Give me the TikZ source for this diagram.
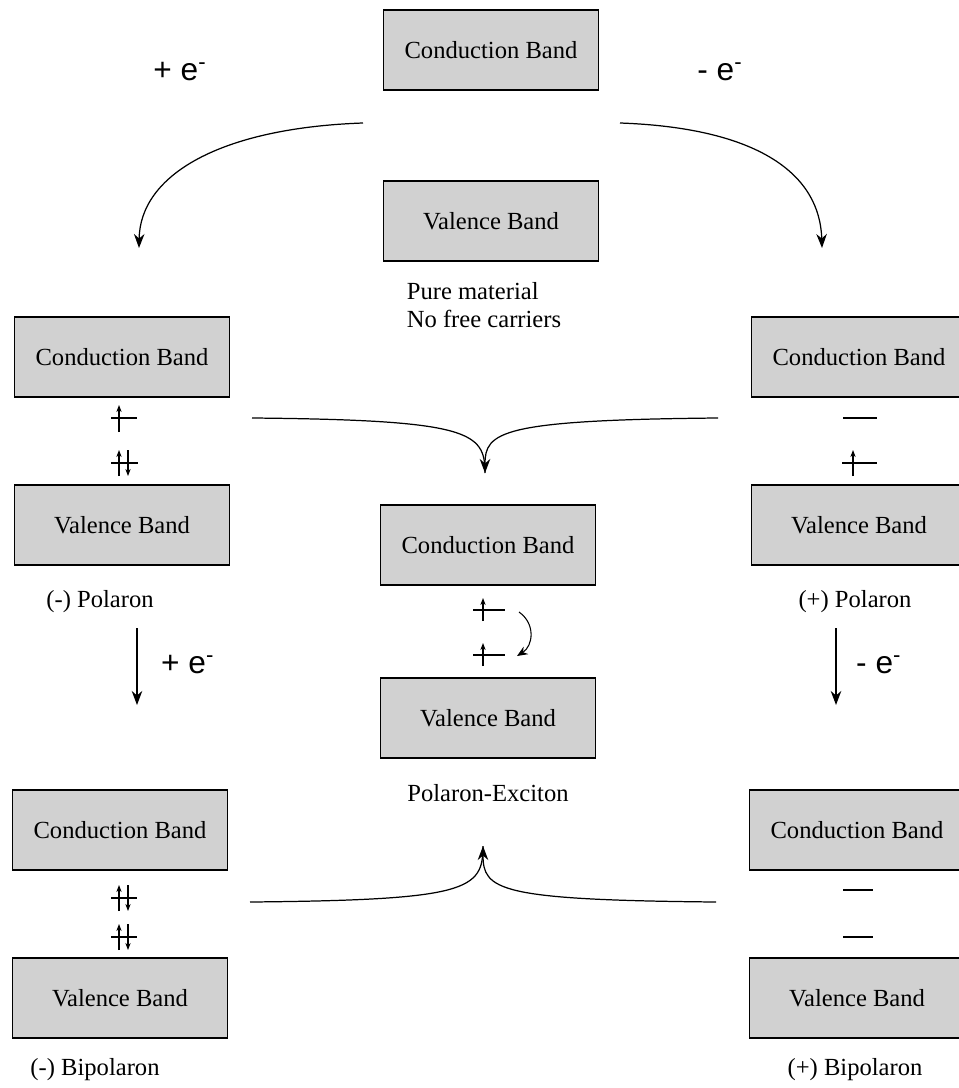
\documentclass[tikz,border=0pt]{standalone}
\usepackage{fontspec}
\setmainfont{Liberation Serif}
\newfontfamily\chargefont{Liberation Sans}
\usetikzlibrary{arrows.meta}

\begin{document}
\begin{tikzpicture}[x=0.02cm, y=-0.02cm, font=\fontsize{14}{16}\selectfont,
    band/.style={draw, line width=0.6pt, fill=black!18, minimum width=4.3cm, minimum height=1.6cm, inner sep=0pt},
    lvl/.style={line width=0.6pt},
    spin/.style={-{Stealth[length=4pt,width=3pt]}, line width=0.6pt},
    flow/.style={-{Stealth[length=8pt,width=6pt]}, line width=0.7pt},
    charge/.style={font=\chargefont\fontsize{18}{20}\selectfont}]
    \useasboundingbox (0,0) rectangle (959,1088);

    % Pure material
    \node[band] (cbTop) at (491,50) {Conduction Band};
    \node[band] (vbTop) at (491,221) {Valence Band};
    \node[align=left] (pure) at (484,305) {Pure material\\No free carriers};

    % (-) Polaron
    \node[band] (cbNeg) at (122,357) {Conduction Band};
    \node[band] (vbNeg) at (122,525) {Valence Band};
    \node (polNeg) at (100,602) {(-) Polaron};
    \draw[lvl] (111,418) -- (137,418);
    \draw[spin] (119,432) -- (119,405);
    \draw[lvl] (111,463) -- (138,463);
    \draw[spin] (119,476) -- (119,450);
    \draw[spin] (128,450) -- (128,476);

    % (+) Polaron
    \node[band] (cbPos) at (859,357) {Conduction Band};
    \node[band] (vbPos) at (859,525) {Valence Band};
    \node (polPos) at (855,602) {(+) Polaron};
    \draw[lvl] (843,418) -- (877,418);
    \draw[lvl] (842,463) -- (877,463);
    \draw[spin] (853,476) -- (853,450);

    % Polaron-Exciton
    \node[band] (cbExc) at (488,545) {Conduction Band};
    \node[band] (vbExc) at (488,718) {Valence Band};
    \node (exciton) at (488,793) {Polaron-Exciton};
    \foreach \y in {610,655} {
        \draw[lvl] (473,\y) -- (505,\y);
        \draw[spin] (483,\y+11) -- (483,\y-12);
    }
    \coordinate (hopA) at (519,612);
    \coordinate (hopB) at (517,656);
    \draw[-{Stealth[length=6pt,width=5pt]}, line width=0.6pt] (hopA) .. controls (536,624) and (533,646) .. (hopB);

    % (-) Bipolaron
    \node[band] (cbBiNeg) at (120,830) {Conduction Band};
    \node[band] (vbBiNeg) at (120,998) {Valence Band};
    \node (bipolNeg) at (95,1070) {(-) Bipolaron};
    \foreach \y in {898,937} {
        \draw[lvl] (111,\y) -- (137,\y);
        \draw[spin] (119,\y+13) -- (119,\y-13);
        \draw[spin] (128,\y-13) -- (128,\y+13);
    }

    % (+) Bipolaron
    \node[band] (cbBiPos) at (857,830) {Conduction Band};
    \node[band] (vbBiPos) at (857,998) {Valence Band};
    \node (bipolPos) at (855,1070) {(+) Bipolaron};
    \draw[lvl] (843,890) -- (873,890);
    \draw[lvl] (843,937) -- (873,937);

    % Doping arrows from the pure material
    \coordinate (addStart) at (363,123);
    \coordinate (addEnd) at (139,248);
    \coordinate (remStart) at (620,123);
    \coordinate (remEnd) at (822,248);
    \draw[flow] (addStart) .. controls (220,128) and (140,175) .. (addEnd);
    \draw[flow] (remStart) .. controls (760,128) and (820,175) .. (remEnd);
    \node[charge] (addTop) at (180,72) {+ e\textsuperscript{-}};
    \node[charge] (remTop) at (720,72) {- e\textsuperscript{-}};

    % Polaron to bipolaron
    \coordinate (negA) at (137,628);
    \coordinate (negB) at (137,705);
    \coordinate (posA) at (836,628);
    \coordinate (posB) at (836,705);
    \draw[flow] (negA) -- (negB);
    \draw[flow] (posA) -- (posB);
    \node[charge, anchor=west] (addMid) at (155,665) {+ e\textsuperscript{-}};
    \node[charge, anchor=west] (remMid) at (850,665) {- e\textsuperscript{-}};

    % Recombination into the exciton
    \coordinate (polL) at (252,418);
    \coordinate (polR) at (718,418);
    \coordinate (polTip) at (485,473);
    \draw[line width=0.7pt] (polL) .. controls (470,420) and (485,432) .. (polTip);
    \draw[flow] (polR) .. controls (500,420) and (485,432) .. (polTip);
    \coordinate (bipL) at (250,902);
    \coordinate (bipR) at (716,902);
    \coordinate (bipTip) at (483,846);
    \draw[line width=0.7pt] (bipL) .. controls (468,900) and (483,890) .. (bipTip);
    \draw[flow] (bipR) .. controls (498,900) and (483,890) .. (bipTip);
\end{tikzpicture}
\end{document}
